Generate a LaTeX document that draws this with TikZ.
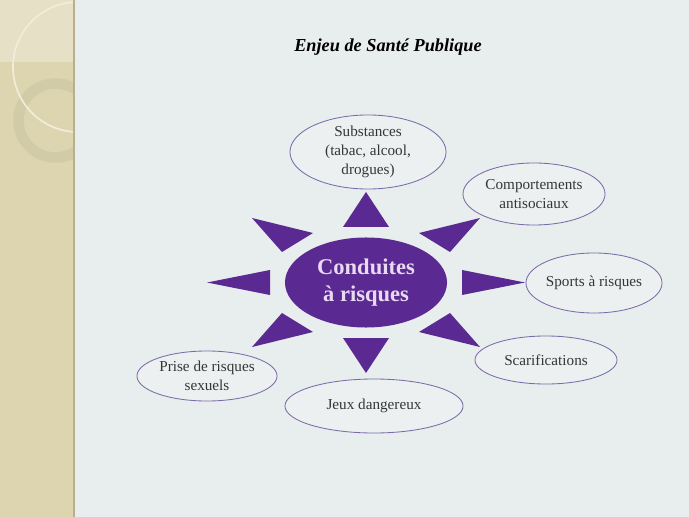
\documentclass[tikz,border=0pt]{standalone}
\usepackage{fontspec}
\setmainfont{Liberation Serif}
\usetikzlibrary{shapes.geometric}
\definecolor{SlideBg}{HTML}{E8EDED}
\definecolor{SideTan}{HTML}{DDD5B0}
\definecolor{SideLight}{HTML}{E5E0C6}
\definecolor{SideRing}{HTML}{D1CBA8}
\definecolor{SideArc}{HTML}{F1EDD8}
\definecolor{SideEdge}{HTML}{B8B08C}
\definecolor{SunPurple}{HTML}{5A2A92}
\definecolor{HubText}{HTML}{E8DAF2}
\definecolor{RimPurple}{HTML}{7A6CA8}
\definecolor{BubbleFill}{HTML}{ECF0F0}
\definecolor{BubbleText}{HTML}{363636}
\tikzset{
  slidetitle/.style={font=\fontsize{13}{15}\selectfont\bfseries\itshape, text=black},
  hub/.style={ellipse, fill=SunPurple, text=HubText, align=center,
              font=\fontsize{16}{19}\selectfont\bfseries,
              minimum width=4.05cm, minimum height=2.25cm, inner sep=0pt},
  risk/.style={ellipse, draw=RimPurple, line width=0.6pt, fill=BubbleFill,
               text=BubbleText, align=center, inner sep=0pt,
               font=\fontsize{10.8}{13.5}\selectfont},
  ray/.style={fill=SunPurple},
}

\begin{document}
\begin{tikzpicture}[x=0.025cm, y=-0.025cm]
  \useasboundingbox (0,0) rectangle (689,517);

  % slide background
  \fill[SlideBg] (0,0) rectangle (689,517);

  % decorated side band
  \fill[SideTan] (0,0) rectangle (74,517);
  \begin{scope}
    \clip (0,0) rectangle (74,517);
    \fill[SideLight] (0,0) rectangle (74,62);
    \draw[SideRing, line width=7.5pt] (55.5,120.5) circle (37);
    \draw[SideArc, line width=1.2pt] (78,67) circle (65);
  \end{scope}
  \draw[SideEdge, line width=1.6pt] (74,0) -- (74,517);

  % title
  \node[slidetitle] (title) at (388,47) {Enjeu de Santé Publique};

  % sun rays round the hub
  \fill[ray] (366,192) -- (343,227) -- (389,227) -- cycle;
  \fill[ray] (366,373) -- (343,338) -- (389,338) -- cycle;
  \fill[ray] (207,282.5) -- (270,270) -- (270,295) -- cycle;
  \fill[ray] (525,282.5) -- (462,270) -- (462,295) -- cycle;
  \fill[ray] (252,218) -- (313,233) -- (282,252) -- cycle;
  \fill[ray] (480,218) -- (419,233) -- (450,252) -- cycle;
  \fill[ray] (252,347) -- (313,332) -- (282,313) -- cycle;
  \fill[ray] (480,347) -- (419,332) -- (450,313) -- cycle;

  % hub
  \node[hub] (hub) at (366,282.5) {Conduites\\à risques};

  % risk behaviours
  \node[risk, minimum width=3.9cm, minimum height=1.85cm, inner ysep=-3pt]
        (subst) at (368,152) {Substances\\(tabac, alcool,\\drogues)};
  \node[risk, minimum width=3.55cm, minimum height=1.55cm]
        (antisoc) at (534,194) {Comportements\\antisociaux};
  \node[risk, minimum width=3.25cm, minimum height=1.5cm]
        (sports) at (594,283) {Sports à risques};
  \node[risk, minimum width=3.55cm, minimum height=1.2cm]
        (scarif) at (546,360) {Scarifications};
  \node[risk, minimum width=4.45cm, minimum height=1.35cm]
        (jeux) at (374,406) {Jeux dangereux};
  \node[risk, minimum width=3.5cm, minimum height=1.25cm]
        (sexe) at (207,376) {Prise de risques\\sexuels};

\end{tikzpicture}
\end{document}
